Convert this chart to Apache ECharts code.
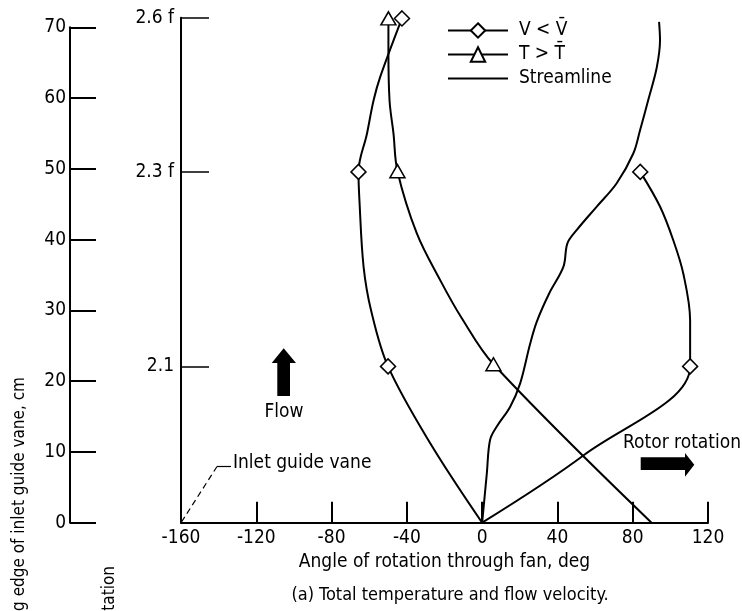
<!DOCTYPE html>
<html>
<head>
<meta charset="utf-8">
<script src="https://cdn.jsdelivr.net/npm/echarts@6/dist/echarts.min.js"></script>
<style>
html,body{margin:0;padding:0;background:#fff;}
#chart{width:742px;height:611px;}
</style>
</head>
<body>
<div id="chart"></div>
<script>
// ---- data (angle deg, distance cm) ----
var xTicks = [-160, -120, -80, -40, 0, 40, 80, 120];
var cmTicks = [0, 10, 20, 30, 40, 50, 60, 70];
var stationValues = [22.1, 49.6, 71.4];
var stationLabels = ['2.1', '2.3 f', '2.6 f'];
// marker points are flagged with 1, traced curve points with 0
var vLowLeft = [[0,0,0],[-27.5,11.2,0],[-50,22.1,1],[-59,30,0],[-63,36.2,0],[-65.2,45.6,0],[-65.7,49.6,1],[-61.2,55,0],[-57.7,59.7,0],[-54.2,63,0],[-42.6,71.3,1]];
var vLowRight = [[0,0,0],[54.3,9.6,0],[110.5,22.1,1],[110.5,28.6,0],[106.9,35.2,0],[101.6,39.9,0],[94.5,44.7,0],[84,49.6,1]];
var tHigh = [[90,0,0],[6,22.4,1],[-10.8,28.9,0],[-22.3,34.3,0],[-34.7,40.9,0],[-45,49.7,1],[-47.1,55,0],[-49.2,59.7,0],[-49.8,66.8,0],[-49.8,71.3,1]];
var streamline = [[0,0],[2.5,7],[4.2,11.7],[7.8,13.6],[14.9,16.4],[20.2,19.7],[25.5,25.3],[29,28.4],[35.6,32.4],[43.2,36.2],[45.3,39.5],[50.3,41.4],[60.9,44.7],[71.5,48],[80.3,52.2],[83.9,55.5],[88.5,60],[92.8,64.4],[94.5,68.2],[94,70.8]];

var FONT = "'DejaVu Sans Condensed', 'DejaVu Sans', sans-serif";
var FS = 19;
var chart = echarts.init(document.getElementById('chart'), null, {renderer: 'canvas'});

function toData(arr) {
  return arr.map(function (p) {
    return p[2] ? {value: [p[0], p[1]]} : {value: [p[0], p[1]], symbol: 'none'};
  });
}
var markerStyle = {color: '#fff', borderColor: '#000', borderWidth: 1.5};
var lineStyle = {color: '#000', width: 2};

var option = {
  backgroundColor: '#fff',
  animation: false,
  textStyle: {fontFamily: FONT, color: '#000'},
  grid: [
    {left: 181, right: 34, top: 17.7, bottom: 88.3},
    {left: 70, width: 30, top: 27.3, bottom: 88.3}
  ],
  xAxis: [{
    type: 'value', gridIndex: 0, min: xTicks[0], max: xTicks[xTicks.length - 1], interval: 40,
    name: 'Angle of rotation through fan, deg', nameLocation: 'middle', nameGap: 30,
    nameTextStyle: {fontFamily: FONT, fontSize: FS, color: '#000'},
    axisLine: {show: true, onZero: false, lineStyle: {color: '#000', width: 2}},
    axisTick: {show: true, inside: true, length: 21, lineStyle: {color: '#000', width: 2}},
    axisLabel: {fontFamily: FONT, fontSize: FS, color: '#000', margin: 6},
    splitLine: {show: false}
  }, {
    type: 'value', gridIndex: 1, show: false, min: 0, max: 1
  }],
  yAxis: [{
    type: 'value', gridIndex: 0, min: 0, max: stationValues[2],
    axisLine: {show: true, onZero: false, lineStyle: {color: '#000', width: 2}},
    axisTick: {show: true, inside: true, length: 28, customValues: stationValues, lineStyle: {color: '#000', width: 1.5}},
    axisLabel: {fontFamily: FONT, fontSize: FS, color: '#000', margin: 7, customValues: stationValues,
      formatter: function (v) {
        for (var i = 0; i < stationValues.length; i++) if (Math.abs(stationValues[i] - v) < 0.01) return stationLabels[i];
        return '';
      }},
    splitLine: {show: false}
  }, {
    type: 'value', gridIndex: 1, min: cmTicks[0], max: cmTicks[cmTicks.length - 1], interval: 10, position: 'left',
    axisLine: {show: true, onZero: false, lineStyle: {color: '#000', width: 2}},
    axisTick: {show: true, inside: true, length: 26, lineStyle: {color: '#000', width: 2}},
    axisLabel: {fontFamily: FONT, fontSize: FS, color: '#000', margin: 4},
    splitLine: {show: false}
  }],
  legend: {
    orient: 'vertical', left: 442, top: 16, itemWidth: 60, itemHeight: 18, itemGap: 5,
    textStyle: {fontFamily: FONT, fontSize: FS, color: '#000', padding: [0, 0, 0, 6]},
    data: ['V < V\u0304', 'T > T\u0304', {name: 'Streamline', itemStyle: {opacity: 0}}]
  },
  series: [{
    name: 'V < V\u0304', type: 'line', smooth: 0.35, data: toData(vLowLeft),
    symbol: 'diamond', symbolSize: 15, itemStyle: markerStyle, lineStyle: lineStyle, z: 3
  }, {
    name: 'V < V\u0304', type: 'line', smooth: 0.35, data: toData(vLowRight),
    symbol: 'diamond', symbolSize: 15, itemStyle: markerStyle, lineStyle: lineStyle, z: 3
  }, {
    name: 'T > T\u0304', type: 'line', smooth: 0.35, data: toData(tHigh),
    symbol: 'triangle', symbolSize: [15, 13], itemStyle: markerStyle, lineStyle: lineStyle, z: 3
  }, {
    name: 'Streamline', type: 'line', smooth: 0.35, data: streamline,
    symbol: 'none', itemStyle: {color: '#000'}, lineStyle: lineStyle, z: 2
  }],
  graphic: [
    {type: 'polygon', shape: {points: [[277.3,396],[277.3,363],[271.7,363],[283.7,348.3],[296,363],[290,363],[290,396]]}, style: {fill: '#000'}},
    {type: 'polygon', shape: {points: [[640.7,457.3],[685,457.3],[685,453],[694.3,464.7],[685,476.7],[685,470],[640.7,470]]}, style: {fill: '#000'}},
    {type: 'text', x: 284, y: 411.7, style: {text: 'Flow', font: FS + 'px ' + FONT, fill: '#000', align: 'center', verticalAlign: 'middle'}},
    {type: 'text', x: 623, y: 442.7, style: {text: 'Rotor rotation', font: FS + 'px ' + FONT, fill: '#000', align: 'left', verticalAlign: 'middle'}},
    {type: 'text', x: 233, y: 463.3, style: {text: 'Inlet guide vane', font: FS + 'px ' + FONT, fill: '#000', align: 'left', verticalAlign: 'middle'}},
    {type: 'polyline', shape: {points: [[181.5,522],[217,466.5]]}, style: {stroke: '#000', lineWidth: 1.2, lineDash: [6, 4]}},
    {type: 'polyline', shape: {points: [[217,466.5],[231,466.5]]}, style: {stroke: '#000', lineWidth: 1.2}},
    {type: 'text', x: 450, y: 595, style: {text: '(a) Total temperature and flow velocity.', font: '18px ' + FONT, fill: '#000', align: 'center', verticalAlign: 'middle'}},
    {type: 'text', x: 20, y: 377, rotation: Math.PI / 2, style: {text: 'Distance from leading edge of inlet guide vane, cm', font: '17px ' + FONT, fill: '#000', align: 'right', verticalAlign: 'middle'}},
    {type: 'text', x: 110, y: 566, rotation: Math.PI / 2, style: {text: 'Station', font: '17px ' + FONT, fill: '#000', align: 'right', verticalAlign: 'middle'}}
  ]
};
chart.setOption(option);
</script>
</body>
</html>
